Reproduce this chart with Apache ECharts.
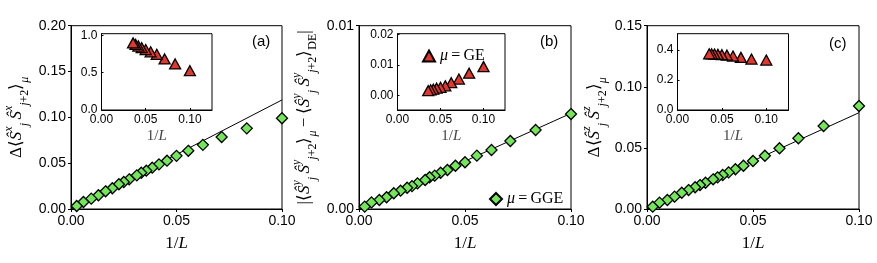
<!DOCTYPE html>
<html><head><meta charset="utf-8">
<script src="https://cdn.jsdelivr.net/npm/echarts@6/dist/echarts.min.js"></script>
<style>html,body{margin:0;padding:0;background:#fff}#c{width:877px;height:263px}</style>
</head><body><div id="c"></div>
<script>
// ---- data ----
const xMain = [0.1, 0.0833, 0.0714, 0.0625, 0.0556, 0.05, 0.0455, 0.0417, 0.0385, 0.0357, 0.0333, 0.0312, 0.0276, 0.0250, 0.0227, 0.0196, 0.0164, 0.0130, 0.0096, 0.0059, 0.0027];
const ggeA = [0.099, 0.088, 0.0785, 0.0700, 0.0635, 0.0580, 0.0527, 0.0487, 0.0451, 0.0418, 0.0396, 0.0367, 0.0324, 0.0295, 0.0270, 0.0226, 0.0193, 0.0150, 0.0113, 0.0076, 0.0033];
const ggeB = [0.00518, 0.00431, 0.00371, 0.00322, 0.00291, 0.00255, 0.00236, 0.00213, 0.00198, 0.00182, 0.00173, 0.00158, 0.00140, 0.00125, 0.00116, 0.00100, 0.00086, 0.00064, 0.00049, 0.00036, 0.00013];
const ggeC = [0.0843, 0.0679, 0.0579, 0.0497, 0.0436, 0.0393, 0.0354, 0.0325, 0.0300, 0.0278, 0.0259, 0.0243, 0.0215, 0.0196, 0.0178, 0.0155, 0.0133, 0.0101, 0.0074, 0.0052, 0.0019];
const fitA = [[0, 0], [0.1, 0.119]];
const fitB = [[0, 0], [0.1, 0.00522]];
const fitC = [[0, 0], [0.1, 0.0788]];
const xInset = [0.1, 0.0833, 0.0714, 0.0625, 0.0556, 0.05, 0.0455, 0.0417, 0.0385, 0.0357];
const geA = [0.527, 0.617, 0.684, 0.747, 0.780, 0.810, 0.835, 0.858, 0.880, 0.900];
const geB = [0.00945, 0.0073, 0.0054, 0.0042, 0.0032, 0.0027, 0.0024, 0.0021, 0.0019, 0.0016];
const geC = [0.333, 0.340, 0.351, 0.360, 0.366, 0.369, 0.371, 0.373, 0.374, 0.375];
const ticksMainX = [0, 0.05, 0.1];
const ticksMainYA = [0, 0.05, 0.10, 0.15, 0.20];
const ticksMainYB = [0, 0.01];
const ticksMainYC = [0, 0.05, 0.10, 0.15];
const ticksInsetX = [0, 0.05, 0.1];
const ticksInsetYA = [0, 0.5, 1.0];
const ticksInsetYB = [0, 0.01, 0.02];
const ticksInsetYC = [0, 0.2, 0.4];
const panelLabels = ['(a)', '(b)', '(c)'];

// ---- styles ----
const GREEN = '#74e65a', RED = '#e4362c';
const SANS = 'Liberation Sans';
const SERIF = 'Liberation Serif';
const zip = (xs, ys) => xs.map((x, i) => [x, ys[i]]);
const nameRich = {
  r: {fontFamily: SERIF, fontSize: 17, lineHeight: 28, color: '#000'},
  i: {fontFamily: SERIF, fontSize: 17, fontStyle: 'italic', lineHeight: 28, color: '#000'},
  sp: {fontFamily: SERIF, fontSize: 12, fontStyle: 'italic', lineHeight: 14, verticalAlign: 'top', color: '#000'},
  sb: {fontFamily: SERIF, fontSize: 12, fontStyle: 'italic', lineHeight: 14, verticalAlign: 'bottom', color: '#000'},
  sbr: {fontFamily: SERIF, fontSize: 12, lineHeight: 14, verticalAlign: 'bottom', color: '#000'}
};
const corr = c => '{i|Ŝ}{sp|' + c + '}{sb|j}{r|\u2009}{i|Ŝ}{sp|' + c + '}{sb|j}{sbr|+2}';
const nameA = '{r|Δ⟨}' + corr('x') + '{r|⟩}{sb|μ}';
const nameB = '{r||⟨}' + corr('y') + '{r|⟩}{sb|μ}{r|\u2009−\u2009⟨}' + corr('y') + '{r|⟩}{sbr|DE}{r||}';
const nameC = '{r|Δ⟨}' + corr('z') + '{r|⟩}{sb|μ}';
const xName = '{r|1/}{i|L}';

function mainX(gi) {
  return {gridIndex: gi, type: 'value', min: 0, max: 0.1,
    name: xName, nameLocation: 'middle', nameGap: 21,
    nameTextStyle: {rich: nameRich},
    axisLine: {onZero: false, lineStyle: {color: '#000', width: 1}},
    axisTick: {inside: false, length: 3, lineStyle: {color: '#000'}, customValues: ticksMainX},
    axisLabel: {customValues: ticksMainX, formatter: v => v.toFixed(2), fontFamily: SANS, fontSize: 14, color: '#000', margin: 5},
    splitLine: {show: false}};
}
function mainY(gi, max, ticks, dec, name, gap) {
  return {gridIndex: gi, type: 'value', min: 0, max: max,
    name: name, nameLocation: 'middle', nameGap: gap, nameRotate: 90,
    nameTextStyle: {rich: nameRich},
    axisLine: {onZero: false, lineStyle: {color: '#000', width: 1}},
    axisTick: {inside: false, length: 3, lineStyle: {color: '#000'}, customValues: ticks},
    axisLabel: {customValues: ticks, formatter: v => v.toFixed(dec), fontFamily: SANS, fontSize: 14, color: '#000', margin: 5},
    splitLine: {show: false}};
}
function insetX(gi) {
  return {gridIndex: gi, type: 'value', min: 0, max: 0.125,
    name: xName, nameLocation: 'middle', nameGap: 19,
    nameTextStyle: {rich: {r: {fontFamily: SERIF, fontSize: 15, color: '#444'}, i: {fontFamily: SERIF, fontSize: 15, fontStyle: 'italic', color: '#444'}}},
    axisLine: {onZero: false, lineStyle: {color: '#000', width: 1}},
    axisTick: {inside: true, length: 2, lineStyle: {color: '#000'}, customValues: ticksInsetX},
    axisLabel: {customValues: ticksInsetX, formatter: v => v.toFixed(2), fontFamily: SANS, fontSize: 12, color: '#000', margin: 4},
    splitLine: {show: false}};
}
function insetY(gi, min, max, ticks, dec) {
  return {gridIndex: gi, type: 'value', min: min, max: max,
    axisLine: {onZero: false, lineStyle: {color: '#000', width: 1}},
    axisTick: {inside: true, length: 2, lineStyle: {color: '#000'}, customValues: ticks},
    axisLabel: {customValues: ticks, formatter: v => v.toFixed(dec), fontFamily: SANS, fontSize: 12, color: '#000', margin: 4},
    splitLine: {show: false}};
}
const gridBase = {show: true, borderColor: '#000', borderWidth: 1, backgroundColor: '#fff', containLabel: false};
function fit(xi, data) {
  return {type: 'line', xAxisIndex: xi, yAxisIndex: xi, data: data, symbol: 'none', z: 1,
    lineStyle: {color: '#000', width: 1}, silent: true};
}
function gge(xi, ys) {
  return {name: 'GGE', type: 'scatter', xAxisIndex: xi, yAxisIndex: xi, data: zip(xMain, ys),
    symbol: 'diamond', symbolSize: 11, z: 3,
    itemStyle: {color: GREEN, borderColor: '#000', borderWidth: 1.3, opacity: 1}};
}
function ge(xi, ys) {
  return {name: 'GE', type: 'scatter', xAxisIndex: xi, yAxisIndex: xi, data: zip(xInset, ys),
    symbol: 'triangle', symbolSize: [11, 10], z: 3,
    itemStyle: {color: RED, borderColor: '#000', borderWidth: 1.3, opacity: 1}};
}
const legendText = {fontFamily: SERIF, fontSize: 16, color: '#000',
  rich: {i: {fontFamily: SERIF, fontSize: 16, fontStyle: 'italic'}, r: {fontFamily: SERIF, fontSize: 16}}};

const option = {
  animation: false,
  backgroundColor: '#fff',
  grid: [
    Object.assign({left: 71, top: 25.7, width: 211, height: 183.3}, gridBase),
    Object.assign({left: 359, top: 25.7, width: 212, height: 183.3}, gridBase),
    Object.assign({left: 647, top: 25.7, width: 212, height: 183.3}, gridBase),
    Object.assign({left: 101.5, top: 33.7, width: 110.5, height: 76.3}, gridBase),
    Object.assign({left: 397.5, top: 33.7, width: 107.5, height: 76.3}, gridBase),
    Object.assign({left: 677.5, top: 33.7, width: 111, height: 76.3}, gridBase)
  ],
  xAxis: [mainX(0), mainX(1), mainX(2), insetX(3), insetX(4), insetX(5)],
  yAxis: [
    mainY(0, 0.2, ticksMainYA, 2, nameA, 40),
    mainY(1, 0.01, ticksMainYB, 2, nameB, 40),
    mainY(2, 0.15, ticksMainYC, 2, nameC, 38),
    insetY(3, 0, 1.023, ticksInsetYA, 1),
    insetY(4, -0.0047, 0.0202, ticksInsetYB, 2),
    insetY(5, 0, 0.509, ticksInsetYC, 1)
  ],
  legend: [
    {data: ['GE'], left: 417, top: 43, itemWidth: 12, itemHeight: 11, selectedMode: false,
      formatter: () => '{i|μ}{r|\u2009=\u2009GE}', textStyle: legendText},
    {data: ['GGE'], left: 484, top: 186, itemWidth: 12, itemHeight: 12, selectedMode: false,
      formatter: () => '{i|μ}{r|\u2009=\u2009GGE}', textStyle: legendText}
  ],
  graphic: [
    {type: 'text', left: 252, top: 34, style: {text: panelLabels[0], font: '15px "Liberation Sans"', fill: '#000'}},
    {type: 'text', left: 540, top: 34, style: {text: panelLabels[1], font: '15px "Liberation Sans"', fill: '#000'}},
    {type: 'text', left: 829, top: 36, style: {text: panelLabels[2], font: '15px "Liberation Sans"', fill: '#000'}}
  ],
  series: [
    fit(0, fitA), gge(0, ggeA),
    fit(1, fitB), gge(1, ggeB),
    fit(2, fitC), gge(2, ggeC),
    ge(3, geA), ge(4, geB), ge(5, geC)
  ]
};
const chart = echarts.init(document.getElementById('c'), null, {renderer: 'canvas'});
chart.setOption(option);
</script></body></html>
